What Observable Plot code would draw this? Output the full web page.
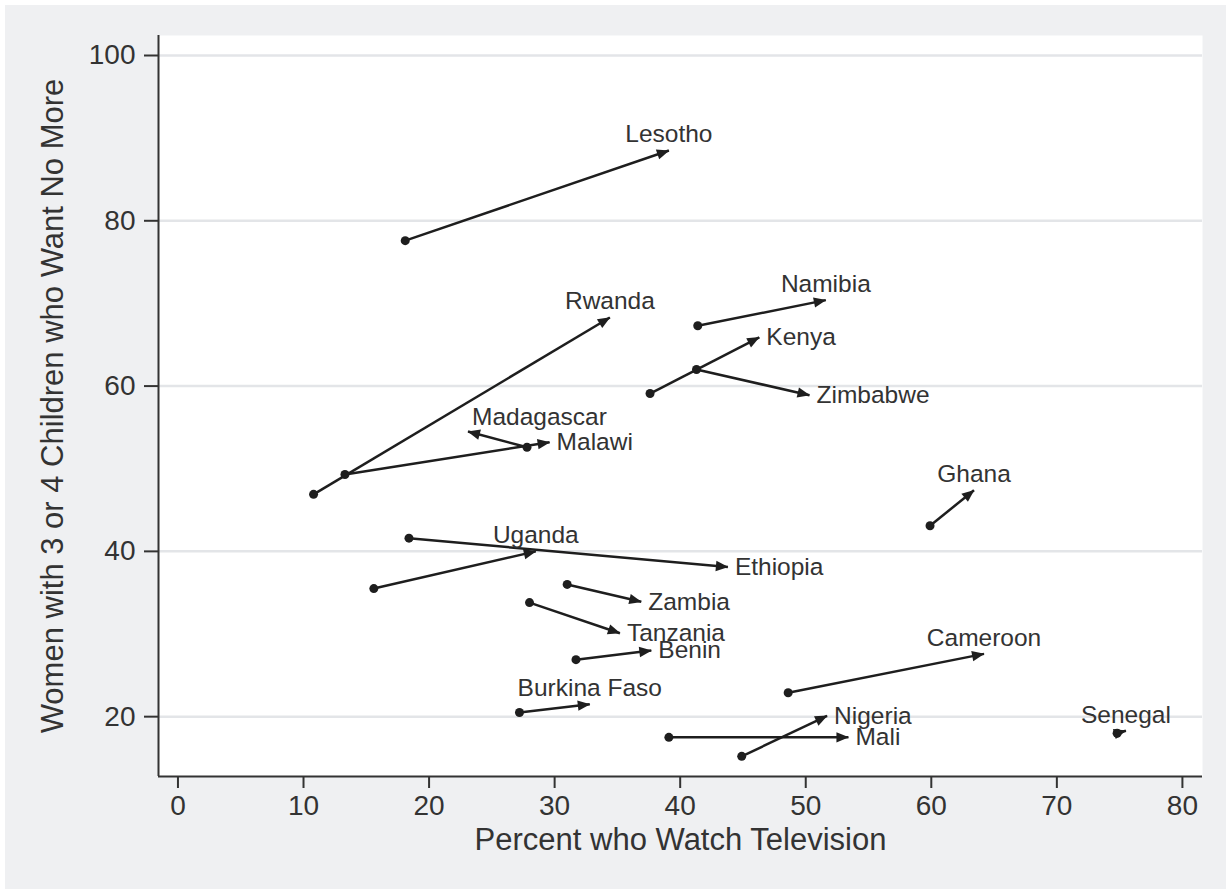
<!DOCTYPE html>
<html>
<head>
<meta charset="utf-8">
<script src="https://cdn.jsdelivr.net/npm/d3@7"></script>
<script src="https://cdn.jsdelivr.net/npm/@observablehq/plot@0.6"></script>
<style>
  html, body { margin: 0; padding: 0; background: #ffffff; }
  #wrap { position: absolute; left: 5px; top: 5px; width: 1221px; height: 884px; background: #eff0f2; }
</style>
</head>
<body>
<div id="wrap"></div>
<script>
// ---- data ----
const countries = ["Lesotho", "Rwanda", "Malawi", "Madagascar", "Kenya", "Zimbabwe", "Namibia",
  "Ethiopia", "Uganda", "Zambia", "Tanzania", "Benin", "Burkina Faso", "Mali", "Nigeria",
  "Ghana", "Cameroon", "Senegal"];
const tvStart   = [18.1, 10.8, 13.3, 27.8, 37.6, 41.3, 41.4, 18.4, 15.6, 31.0, 28.0, 31.7, 27.2, 39.1, 44.9, 59.9, 48.6, 74.8];
const tvEnd     = [39.1, 34.4, 29.6, 23.1, 46.3, 50.3, 51.6, 43.8, 28.5, 36.9, 35.2, 37.7, 32.8, 53.4, 51.7, 63.4, 64.2, 75.5];
const wantStart = [77.6, 46.9, 49.3, 52.6, 59.1, 62.0, 67.3, 41.6, 35.5, 36.0, 33.8, 26.9, 20.5, 17.5, 15.2, 43.1, 22.9, 18.0];
const wantEnd   = [88.5, 68.3, 53.2, 54.5, 65.9, 58.9, 70.4, 38.1, 40.0, 33.9, 30.1, 28.0, 21.5, 17.5, 20.1, 47.4, 27.6, 18.3];
const labelClock = [12, 12, 3, 1, 3, 3, 12, 3, 12, 3, 3, 3, 12, 3, 3, 12, 12, 12];
const xTicks = [0, 10, 20, 30, 40, 50, 60, 70, 80];
const yTicks = [20, 40, 60, 80, 100];
const xTitle = "Percent who Watch Television";
const yTitle = "Women with 3 or 4 Children who Want No More";

const rows = countries.map((c, i) => ({
  country: c, x1: tvStart[i], x2: tvEnd[i], y1: wantStart[i], y2: wantEnd[i], clock: labelClock[i]
}));

const xDomain = [-1.55, 81.6];
const yDomain = [12.76, 102.42];
const ink = "#1e1e1e";
const textColor = "#333333";

// filled triangular arrowhead as a custom marker
function arrowHead(color, context) {
  const ns = "http://www.w3.org/2000/svg";
  const doc = (context && context.document) || document;
  const m = doc.createElementNS(ns, "marker");
  m.setAttribute("viewBox", "-13 -6 14 12");
  m.setAttribute("markerUnits", "userSpaceOnUse");
  m.setAttribute("markerWidth", "14");
  m.setAttribute("markerHeight", "12");
  m.setAttribute("refX", "0");
  m.setAttribute("refY", "0");
  m.setAttribute("orient", "auto");
  const p = doc.createElementNS(ns, "path");
  p.setAttribute("d", "M0.5,0L-12,-5.2L-12,5.2Z");
  p.setAttribute("fill", color);
  p.setAttribute("stroke", "none");
  m.appendChild(p);
  return m;
}

const chart = Plot.plot({
  width: 1221,
  height: 884,
  marginLeft: 153,
  marginRight: 24,
  marginTop: 30,
  marginBottom: 113,
  style: { background: "transparent", fontFamily: "'Liberation Sans', Arial, sans-serif", color: textColor },
  x: { domain: xDomain, label: null },
  y: { domain: yDomain, label: null },
  marks: [
    Plot.frame({ fill: "white", stroke: "none" }),
    Plot.gridY(yTicks, { stroke: "#e3e5e8", strokeOpacity: 1, strokeWidth: 2.5 }),
    Plot.ruleX([xDomain[0]], { stroke: "#333", strokeWidth: 2 }),
    Plot.ruleY([yDomain[0]], { stroke: "#333", strokeWidth: 2 }),
    Plot.axisX(xTicks, { tickSize: 12, tickPadding: 7, fontSize: 28, stroke: "#333", strokeWidth: 2, label: null }),
    Plot.axisY(yTicks, { tickSize: 14, tickPadding: 9, fontSize: 28, stroke: "#333", strokeWidth: 2, label: null }),
    Plot.text([xTitle], { frameAnchor: "bottom", textAnchor: "middle", lineAnchor: "middle", dy: 64, fontSize: 31, fill: textColor }),
    Plot.text([yTitle], { frameAnchor: "left", rotate: -90, textAnchor: "middle", lineAnchor: "middle", dx: -105, fontSize: 31, fill: textColor }),
    Plot.link(rows, { x1: "x1", y1: "y1", x2: "x2", y2: "y2", stroke: ink, strokeWidth: 2.5, markerEnd: arrowHead }),
    Plot.dot(rows, { x: "x1", y: "y1", r: 4.5, fill: ink, stroke: "none" }),
    Plot.text(rows, { filter: d => d.clock === 12, x: "x2", y: "y2", text: "country", textAnchor: "middle", dy: -16, fontSize: 24.5, fill: textColor }),
    Plot.text(rows, { filter: d => d.clock === 3, x: "x2", y: "y2", text: "country", textAnchor: "start", dx: 7, fontSize: 24.5, fill: textColor }),
    Plot.text(rows, { filter: d => d.clock === 1, x: "x2", y: "y2", text: "country", textAnchor: "start", dx: 4, dy: -14, fontSize: 24.5, fill: textColor })
  ]
});

document.getElementById("wrap").appendChild(chart);
</script>
</body>
</html>
